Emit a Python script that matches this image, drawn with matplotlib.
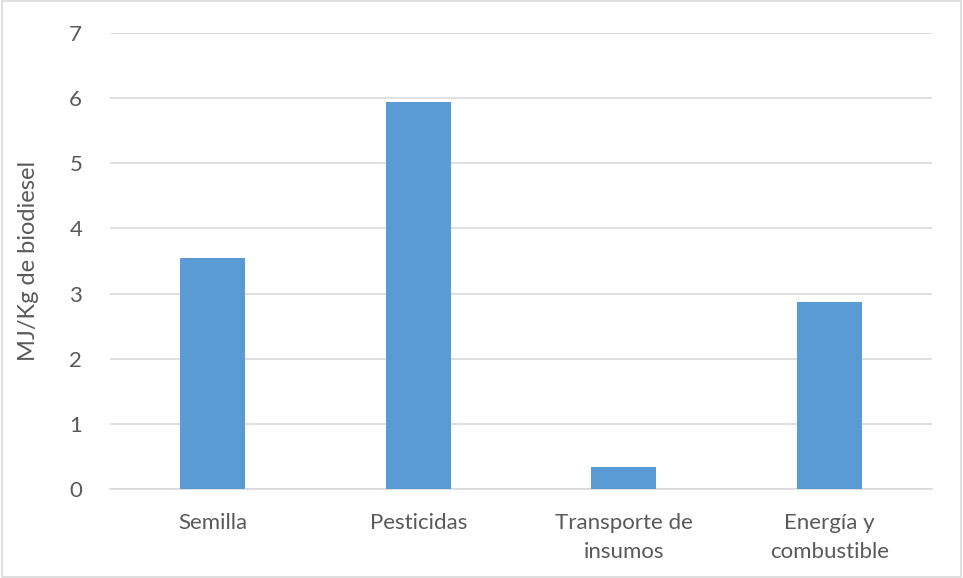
import matplotlib
matplotlib.use("Agg")
import matplotlib.pyplot as plt
import numpy as np

categorias = ['Semilla', 'Pesticidas', 'Transporte de\ninsumos', 'Energía y\ncombustible']
valores = [3.54, 5.94, 0.33, 2.87]
yticks = [0, 1, 2, 3, 4, 5, 6, 7]

plt.rcParams['font.family'] = ['Lato', 'DejaVu Sans']

fig = plt.figure(figsize=(9.63, 5.78), dpi=100)
ax = fig.add_axes([0.1142, 0.154, 0.8536, 0.789])

x = np.arange(len(categorias))
ax.bar(x, valores, width=0.316, color='#5B9BD5', zorder=3)

ax.set_xlim(-0.5, len(categorias) - 0.5)
ax.set_ylim(0, 7)
ax.set_yticks(yticks)
ax.set_xticks(x)
ax.set_xticklabels(categorias, fontsize=16, color='#595959', linespacing=1.6)
ax.tick_params(axis='y', labelsize=16, labelcolor='#595959', length=0, pad=20)
ax.tick_params(axis='x', length=0, pad=17)
ax.set_ylabel('MJ/Kg de biodiesel', fontsize=17, color='#595959', labelpad=22)

ax.grid(axis='y', color='#D9D9D9', linewidth=1.2, zorder=0)
for s in ['top', 'right', 'left']:
    ax.spines[s].set_visible(False)
ax.spines['bottom'].set_color('#D9D9D9')
ax.spines['bottom'].set_linewidth(1.2)

# marco exterior
fig.patches.append(plt.Rectangle((0.002, 0.002), 0.996, 0.996, transform=fig.transFigure,
                                 fill=False, edgecolor='#D9D9D9', linewidth=1.2))

fig.savefig('out.png', dpi=100)
